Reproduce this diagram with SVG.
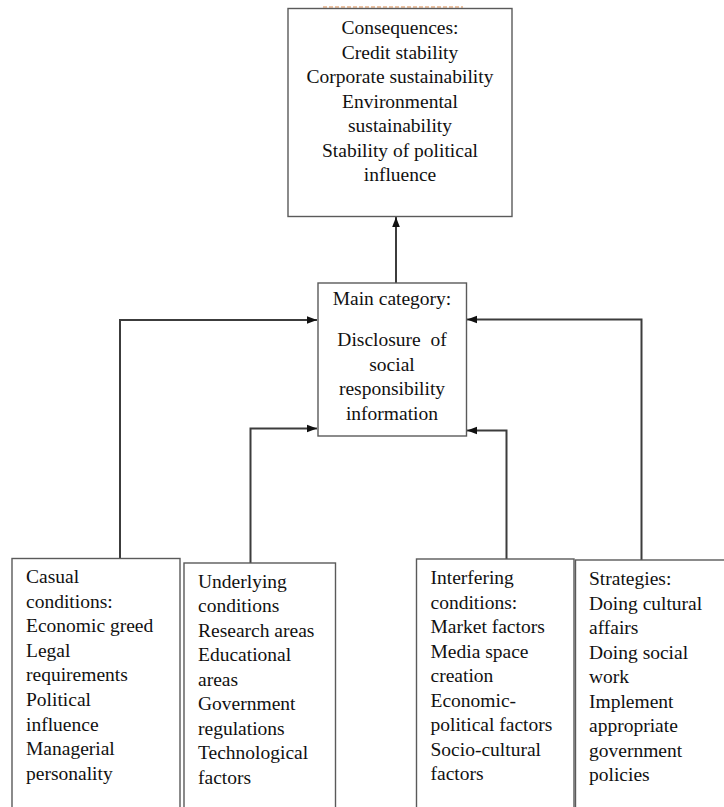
<svg xmlns="http://www.w3.org/2000/svg" width="724" height="807" viewBox="0 0 724 807">
<style>
.box{fill:#fff;stroke:#5a5a5a;stroke-width:1.4}
.conn{fill:none;stroke:#3c3c3c;stroke-width:2}
.t{font-family:'Liberation Serif','DejaVu Serif',serif;font-size:19.5px;fill:#111}
.c{text-anchor:middle}
</style>
<defs>
<marker id="ah" markerUnits="userSpaceOnUse" markerWidth="10" markerHeight="10" viewBox="0 0 10 10" refX="10" refY="5" orient="auto">
<path d="M0,1.2 L10,5 L0,8.8 Z" fill="#111"/>
</marker>
</defs>
<rect width="724" height="807" fill="#fff"/>
<line x1="323" y1="7" x2="463" y2="7" stroke="#d9884a" stroke-width="1.2" stroke-dasharray="4,2"/>
<g id="connectors">
<line class="conn" x1="396" y1="283" x2="396" y2="217" marker-end="url(#ah)"/>
<polyline class="conn" points="120,558 120,320 317,320" marker-end="url(#ah)"/>
<polyline class="conn" points="250.5,563 250.5,428.5 317,428.5" marker-end="url(#ah)"/>
<polyline class="conn" points="506.5,559 506.5,430.5 467,430.5" marker-end="url(#ah)"/>
<polyline class="conn" points="641.5,560 641.5,319.5 467,319.5" marker-end="url(#ah)"/>
</g>
<g id="consequences" class="t" font-family="Liberation Serif, DejaVu Serif, serif">
<rect class="box" x="288" y="8.5" width="224" height="208"/>
<text class="c" x="400" y="34">Consequences:</text>
<text class="c" x="400" y="58.5">Credit stability</text>
<text class="c" x="400" y="83">Corporate sustainability</text>
<text class="c" x="400" y="107.5">Environmental</text>
<text class="c" x="400" y="132">sustainability</text>
<text class="c" x="400" y="156.5">Stability of political</text>
<text class="c" x="400" y="181">influence</text>
</g>
<g id="main" class="t" font-family="Liberation Serif, DejaVu Serif, serif">
<rect class="box" x="318" y="283" width="148.5" height="153"/>
<text class="c" x="392" y="305">Main category:</text>
<text class="c" x="392" y="346" style="white-space:pre">Disclosure  of</text>
<text class="c" x="392" y="370.5">social</text>
<text class="c" x="392" y="395">responsibility</text>
<text class="c" x="392" y="419.5">information</text>
</g>
<g id="casual" class="t" font-family="Liberation Serif, DejaVu Serif, serif">
<rect class="box" x="12" y="558.5" width="168" height="260"/>
<text x="26" y="583">Casual</text>
<text x="26" y="607.6">conditions:</text>
<text x="26" y="632.2">Economic greed</text>
<text x="26" y="656.8">Legal</text>
<text x="26" y="681.4">requirements</text>
<text x="26" y="706">Political</text>
<text x="26" y="730.6">influence</text>
<text x="26" y="755.2">Managerial</text>
<text x="26" y="779.8">personality</text>
</g>
<g id="underlying" class="t" font-family="Liberation Serif, DejaVu Serif, serif">
<rect class="box" x="184" y="563" width="151.5" height="260"/>
<text x="198" y="587.5">Underlying</text>
<text x="198" y="612">conditions</text>
<text x="198" y="636.5">Research areas</text>
<text x="198" y="661">Educational</text>
<text x="198" y="685.5">areas</text>
<text x="198" y="710">Government</text>
<text x="198" y="734.5">regulations</text>
<text x="198" y="759">Technological</text>
<text x="198" y="783.5">factors</text>
</g>
<g id="interfering" class="t" font-family="Liberation Serif, DejaVu Serif, serif">
<rect class="box" x="416.5" y="559" width="157.5" height="260"/>
<text x="430.5" y="584">Interfering</text>
<text x="430.5" y="608.5">conditions:</text>
<text x="430.5" y="633">Market factors</text>
<text x="430.5" y="657.5">Media space</text>
<text x="430.5" y="682">creation</text>
<text x="430.5" y="706.5">Economic-</text>
<text x="430.5" y="731">political factors</text>
<text x="430.5" y="755.5">Socio-cultural</text>
<text x="430.5" y="780">factors</text>
</g>
<g id="strategies" class="t" font-family="Liberation Serif, DejaVu Serif, serif">
<rect class="box" x="575.5" y="560" width="160" height="260"/>
<text x="589" y="585">Strategies:</text>
<text x="589" y="609.5">Doing cultural</text>
<text x="589" y="634">affairs</text>
<text x="589" y="658.5">Doing social</text>
<text x="589" y="683">work</text>
<text x="589" y="707.5">Implement</text>
<text x="589" y="732">appropriate</text>
<text x="589" y="756.5">government</text>
<text x="589" y="781">policies</text>
</g>
</svg>
